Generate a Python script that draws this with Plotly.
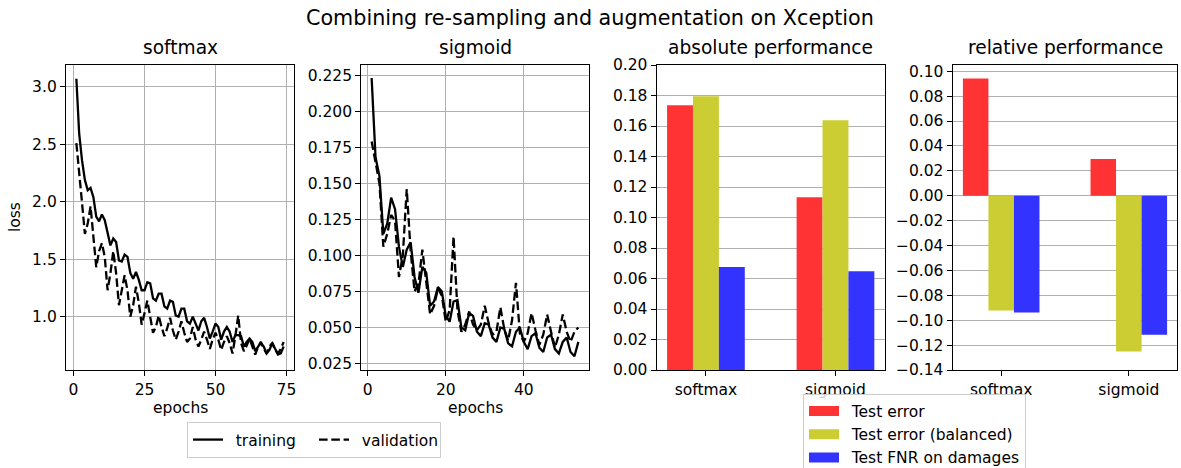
import plotly.graph_objects as go

# ---------------- data ----------------
epochs_softmax = list(range(1, 75))
train_softmax = [3.07, 2.59, 2.36, 2.19, 2.10, 2.12, 2.04, 1.87, 1.83, 1.89,
                 1.84, 1.72, 1.62, 1.68, 1.65, 1.49, 1.48, 1.54, 1.52, 1.38,
                 1.33, 1.39, 1.32, 1.23, 1.23, 1.30, 1.29, 1.16, 1.14, 1.20,
                 1.20, 1.09, 1.07, 1.14, 1.13, 1.01, 1.00, 1.07, 1.07, 0.96,
                 0.94, 1.00, 0.94, 0.88, 0.96, 0.99, 0.91, 0.81, 0.87, 0.94,
                 0.91, 0.80, 0.87, 0.91, 0.87, 0.78, 0.84, 0.84, 0.83, 0.74,
                 0.78, 0.81, 0.78, 0.70, 0.74, 0.77, 0.74, 0.68, 0.71, 0.77,
                 0.72, 0.67, 0.68, 0.74]
val_softmax = [2.51, 2.28, 1.99, 1.72, 1.81, 1.96, 1.67, 1.43, 1.57, 1.64,
               1.52, 1.23, 1.38, 1.57, 1.38, 1.10, 1.23, 1.36, 1.23, 1.00,
               1.10, 1.26, 1.12, 0.93, 1.03, 1.14, 1.00, 0.86, 0.91, 1.01,
               0.91, 0.83, 0.90, 0.99, 0.88, 0.80, 0.87, 0.96, 0.86, 0.78,
               0.81, 0.91, 0.80, 0.74, 0.80, 0.87, 0.80, 0.72, 0.80, 0.86,
               0.80, 0.71, 0.78, 0.83, 0.77, 0.68, 0.83, 1.01, 0.77, 0.70,
               0.75, 0.81, 0.74, 0.67, 0.74, 0.78, 0.72, 0.68, 0.74, 0.77,
               0.71, 0.68, 0.72, 0.78]

epochs_sigmoid = list(range(1, 55))
train_sigmoid = [0.223, 0.168, 0.155, 0.115, 0.122, 0.140, 0.132, 0.106, 0.092, 0.104,
                 0.109, 0.085, 0.074, 0.092, 0.088, 0.065, 0.068, 0.078, 0.075, 0.058,
                 0.054, 0.068, 0.069, 0.050, 0.048, 0.060, 0.058, 0.047, 0.044, 0.053,
                 0.052, 0.043, 0.040, 0.050, 0.049, 0.039, 0.037, 0.047, 0.050, 0.040,
                 0.035, 0.044, 0.046, 0.036, 0.033, 0.043, 0.045, 0.035, 0.032, 0.040,
                 0.043, 0.033, 0.030, 0.040]
val_sigmoid = [0.179, 0.165, 0.150, 0.106, 0.115, 0.128, 0.124, 0.085, 0.100, 0.146,
               0.103, 0.075, 0.080, 0.104, 0.080, 0.059, 0.065, 0.077, 0.072, 0.054,
               0.062, 0.113, 0.062, 0.047, 0.052, 0.061, 0.052, 0.048, 0.052, 0.065,
               0.053, 0.045, 0.047, 0.064, 0.049, 0.041, 0.055, 0.081, 0.046, 0.040,
               0.046, 0.060, 0.048, 0.038, 0.045, 0.059, 0.047, 0.036, 0.045, 0.059,
               0.047, 0.040, 0.047, 0.050]

models = ["softmax", "sigmoid"]
metrics = ["Test error", "Test error (balanced)", "Test FNR on damages"]
metric_colors = ["#ff3333", "#cccc33", "#3333ff"]
absolute_perf = {
    "Test error": [0.1736, 0.1133],
    "Test error (balanced)": [0.1795, 0.1638],
    "Test FNR on damages": [0.0675, 0.0648],
}
relative_perf = {
    "Test error": [0.0942, 0.0294],
    "Test error (balanced)": [-0.0923, -0.1252],
    "Test FNR on damages": [-0.0939, -0.1116],
}

# ---------------- styling ----------------
W, H = 1181, 468
FONT = "DejaVu Sans"
TICK_SIZE = 15.5
LINE_W = 2.3
DASH = "8.6px,3.7px"
GRID = "#b0b0b0"
PAD = "\u2002"  # small gap between legend handle and label


def px_x(p):
    return p / W


def px_y(p):
    return 1 - p / H


fig = go.Figure()

# loss curves
for xa, ya, ep, tr, va, show in [
    ("x", "y", epochs_softmax, train_softmax, val_softmax, True),
    ("x2", "y2", epochs_sigmoid, train_sigmoid, val_sigmoid, False),
]:
    fig.add_trace(go.Scatter(x=ep, y=tr, mode="lines", name=PAD + "training",
                             line=dict(color="black", width=LINE_W),
                             xaxis=xa, yaxis=ya, showlegend=show, legend="legend"))
    fig.add_trace(go.Scatter(x=ep, y=va, mode="lines", name=PAD + "validation",
                             line=dict(color="black", width=LINE_W, dash=DASH),
                             xaxis=xa, yaxis=ya, showlegend=show, legend="legend"))

# grouped bars
for m, c in zip(metrics, metric_colors):
    fig.add_trace(go.Bar(x=models, y=absolute_perf[m], marker=dict(color=c, line_width=0),
                         xaxis="x3", yaxis="y3", showlegend=False, name=m))
    fig.add_trace(go.Bar(x=models, y=relative_perf[m], marker=dict(color=c, line_width=0),
                         xaxis="x4", yaxis="y4", showlegend=False, name=m))

# legend handles for the bar colours (wide patches)
for m, c in zip(metrics, metric_colors):
    fig.add_trace(go.Scatter(x=[None], y=[None], mode="lines", name=PAD + m,
                             line=dict(color=c, width=11),
                             xaxis="x3", yaxis="y3", legend="legend2"))

y_dom = [px_y(370), px_y(65)]
axis_common = dict(
    showline=True, mirror=True, linecolor="black", linewidth=1.25,
    ticks="outside", ticklen=5, tickwidth=1.25, tickcolor="black",
    tickfont=dict(family=FONT, size=TICK_SIZE, color="black"),
    gridcolor=GRID, gridwidth=1.25, zeroline=False,
)

fig.update_layout(
    width=W, height=H,
    margin=dict(l=0, r=0, t=0, b=0, autoexpand=False),
    paper_bgcolor="white", plot_bgcolor="white",
    font=dict(family=FONT, color="black"),
    barmode="group", bargap=0.4, bargroupgap=0,
    xaxis=dict(domain=[px_x(66), px_x(294)], anchor="y", range=[-2.65, 77.65],
               tickvals=[0, 25, 50, 75], showgrid=True, **axis_common),
    yaxis=dict(domain=y_dom, anchor="x", range=[0.536, 3.19],
               tickvals=[1.0, 1.5, 2.0, 2.5, 3.0], tickformat=".1f", showgrid=True, **axis_common),
    xaxis2=dict(domain=[px_x(361.3), px_x(588.7)], anchor="y2", range=[-1.65, 56.65],
                tickvals=[0, 20, 40], showgrid=True, **axis_common),
    yaxis2=dict(domain=y_dom, anchor="x2", range=[0.0205, 0.232],
                tickvals=[0.025, 0.05, 0.075, 0.1, 0.125, 0.15, 0.175, 0.2, 0.225],
                tickformat=".3f", showgrid=True, **axis_common),
    xaxis3=dict(domain=[px_x(656.7), px_x(884.7)], anchor="y3", type="category",
                range=[-0.38, 1.38], showgrid=False, **axis_common),
    yaxis3=dict(domain=y_dom, anchor="x3", range=[0, 0.20], dtick=0.02,
                tickformat=".2f", showgrid=True, **axis_common),
    xaxis4=dict(domain=[px_x(952.7), px_x(1177.3)], anchor="y4", type="category",
                range=[-0.38, 1.38], showgrid=False, **axis_common),
    yaxis4=dict(domain=y_dom, anchor="x4", range=[-0.14, 0.105], dtick=0.02,
                tickformat=".2f", showgrid=True, **axis_common),
    legend=dict(orientation="h", x=px_x(187), y=px_y(422), xanchor="left", yanchor="top",
                entrywidth=81, bgcolor="rgba(255,255,255,0.8)", bordercolor="#cccccc",
                borderwidth=1, font=dict(family=FONT, size=TICK_SIZE, color="black")),
    legend2=dict(orientation="v", x=px_x(803), y=px_y(393.5), xanchor="left", yanchor="top",
                 bgcolor="rgba(255,255,255,0.8)", bordercolor="#cccccc", borderwidth=1,
                 font=dict(family=FONT, size=TICK_SIZE, color="black")),
)

annotations = [
    dict(text="Combining re-sampling and augmentation on Xception", x=px_x(590), y=px_y(18),
         font=dict(size=20.7)),
    dict(text="softmax", x=px_x(180), y=px_y(48), font=dict(size=18.6)),
    dict(text="sigmoid", x=px_x(475), y=px_y(48), font=dict(size=18.6)),
    dict(text="absolute performance", x=px_x(770.7), y=px_y(48), font=dict(size=18.6)),
    dict(text="relative performance", x=px_x(1065), y=px_y(48), font=dict(size=18.6)),
    dict(text="epochs", x=px_x(180), y=px_y(408), font=dict(size=TICK_SIZE)),
    dict(text="epochs", x=px_x(475), y=px_y(408), font=dict(size=TICK_SIZE)),
    dict(text="loss", x=px_x(15), y=px_y(217), font=dict(size=TICK_SIZE), textangle=-90),
]
for a in annotations:
    a.update(xref="paper", yref="paper", showarrow=False, xanchor="center", yanchor="middle")
    a["font"].update(family=FONT, color="black")
fig.update_layout(annotations=annotations)

fig.write_html("out.html")
